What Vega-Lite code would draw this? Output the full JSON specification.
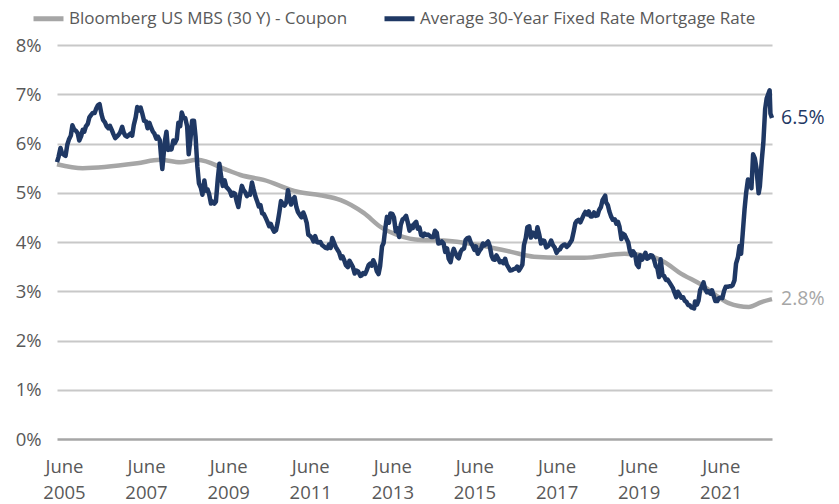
{
  "$schema": "https://vega.github.io/schema/vega-lite/v6.json",
  "autosize": "none",
  "width": 715,
  "height": 394,
  "padding": {"left": 57, "top": 45, "right": 67, "bottom": 65},
  "config": {
    "font": "Open Sans",
    "view": {"stroke": null},
    "legend": {
      "orient": "none",
      "legendX": -26,
      "legendY": -44,
      "direction": "horizontal",
      "title": null,
      "symbolType": "stroke",
      "symbolSize": 900,
      "symbolStrokeWidth": 5,
      "labelFontSize": 17,
      "labelColor": "#595959",
      "labelLimit": 500,
      "labelOffset": 3,
      "columnPadding": 26
    }
  },
  "datasets": {
    "mbs": [
      {"date": "2005-07-01", "value": 5.58},
      {"date": "2006-02-15", "value": 5.50},
      {"date": "2007-06-15", "value": 5.60},
      {"date": "2008-01-05", "value": 5.67},
      {"date": "2008-07-01", "value": 5.62},
      {"date": "2008-12-01", "value": 5.67},
      {"date": "2009-08-25", "value": 5.46},
      {"date": "2009-12-20", "value": 5.36},
      {"date": "2010-07-13", "value": 5.26},
      {"date": "2011-05-12", "value": 5.02},
      {"date": "2011-12-01", "value": 4.95},
      {"date": "2012-05-30", "value": 4.85},
      {"date": "2012-12-20", "value": 4.59},
      {"date": "2013-05-22", "value": 4.30},
      {"date": "2013-10-19", "value": 4.14},
      {"date": "2014-05-12", "value": 4.04},
      {"date": "2014-12-01", "value": 4.03},
      {"date": "2015-10-01", "value": 3.94},
      {"date": "2016-07-24", "value": 3.80},
      {"date": "2017-02-13", "value": 3.70},
      {"date": "2017-10-12", "value": 3.68},
      {"date": "2018-05-05", "value": 3.68},
      {"date": "2019-04-28", "value": 3.76},
      {"date": "2019-12-24", "value": 3.70},
      {"date": "2020-04-20", "value": 3.59},
      {"date": "2020-08-22", "value": 3.39},
      {"date": "2021-03-14", "value": 3.13},
      {"date": "2021-11-10", "value": 2.76},
      {"date": "2022-05-08", "value": 2.68},
      {"date": "2022-08-29", "value": 2.78},
      {"date": "2022-12-01", "value": 2.84}
    ],
    "mortgage": [
      {"date": "2005-07-01", "value": 5.62},
      {"date": "2005-07-15", "value": 5.73},
      {"date": "2005-08-01", "value": 5.91},
      {"date": "2005-08-15", "value": 5.80},
      {"date": "2005-09-01", "value": 5.77},
      {"date": "2005-09-15", "value": 5.75},
      {"date": "2005-10-01", "value": 5.98},
      {"date": "2005-10-15", "value": 6.08},
      {"date": "2005-11-01", "value": 6.16},
      {"date": "2005-11-15", "value": 6.37},
      {"date": "2005-12-01", "value": 6.28},
      {"date": "2005-12-15", "value": 6.26},
      {"date": "2006-01-01", "value": 6.21},
      {"date": "2006-01-15", "value": 6.06},
      {"date": "2006-02-01", "value": 6.15},
      {"date": "2006-02-15", "value": 6.28},
      {"date": "2006-03-01", "value": 6.24},
      {"date": "2006-03-15", "value": 6.35},
      {"date": "2006-04-01", "value": 6.40},
      {"date": "2006-04-15", "value": 6.53},
      {"date": "2006-05-01", "value": 6.58},
      {"date": "2006-05-15", "value": 6.62},
      {"date": "2006-06-01", "value": 6.62},
      {"date": "2006-06-15", "value": 6.71},
      {"date": "2006-07-01", "value": 6.78},
      {"date": "2006-07-15", "value": 6.80},
      {"date": "2006-08-01", "value": 6.59},
      {"date": "2006-08-15", "value": 6.48},
      {"date": "2006-09-01", "value": 6.43},
      {"date": "2006-09-15", "value": 6.35},
      {"date": "2006-10-01", "value": 6.31},
      {"date": "2006-10-15", "value": 6.36},
      {"date": "2006-11-01", "value": 6.27},
      {"date": "2006-11-15", "value": 6.19},
      {"date": "2006-12-01", "value": 6.11},
      {"date": "2006-12-15", "value": 6.14},
      {"date": "2007-01-01", "value": 6.18},
      {"date": "2007-01-15", "value": 6.23},
      {"date": "2007-02-01", "value": 6.34},
      {"date": "2007-02-15", "value": 6.22},
      {"date": "2007-03-01", "value": 6.16},
      {"date": "2007-03-15", "value": 6.14},
      {"date": "2007-04-01", "value": 6.17},
      {"date": "2007-04-15", "value": 6.20},
      {"date": "2007-05-01", "value": 6.16},
      {"date": "2007-05-15", "value": 6.37},
      {"date": "2007-06-01", "value": 6.53},
      {"date": "2007-06-15", "value": 6.74},
      {"date": "2007-07-01", "value": 6.67},
      {"date": "2007-07-15", "value": 6.73},
      {"date": "2007-08-01", "value": 6.59},
      {"date": "2007-08-15", "value": 6.46},
      {"date": "2007-09-01", "value": 6.45},
      {"date": "2007-09-15", "value": 6.31},
      {"date": "2007-10-01", "value": 6.42},
      {"date": "2007-10-15", "value": 6.33},
      {"date": "2007-11-01", "value": 6.24},
      {"date": "2007-11-15", "value": 6.20},
      {"date": "2007-12-01", "value": 6.10},
      {"date": "2007-12-15", "value": 6.14},
      {"date": "2008-01-01", "value": 6.07},
      {"date": "2008-01-15", "value": 5.69},
      {"date": "2008-01-24", "value": 5.48},
      {"date": "2008-02-01", "value": 5.68},
      {"date": "2008-02-15", "value": 6.04},
      {"date": "2008-03-01", "value": 6.24},
      {"date": "2008-03-15", "value": 5.87},
      {"date": "2008-04-01", "value": 5.88},
      {"date": "2008-04-15", "value": 5.88},
      {"date": "2008-05-01", "value": 6.06},
      {"date": "2008-05-15", "value": 6.01},
      {"date": "2008-06-01", "value": 6.09},
      {"date": "2008-06-15", "value": 6.42},
      {"date": "2008-07-01", "value": 6.35},
      {"date": "2008-07-15", "value": 6.63},
      {"date": "2008-08-01", "value": 6.52},
      {"date": "2008-08-15", "value": 6.52},
      {"date": "2008-09-01", "value": 6.35},
      {"date": "2008-09-15", "value": 5.78},
      {"date": "2008-10-01", "value": 6.10},
      {"date": "2008-10-15", "value": 6.46},
      {"date": "2008-11-01", "value": 6.46},
      {"date": "2008-11-15", "value": 6.14},
      {"date": "2008-12-01", "value": 5.53},
      {"date": "2008-12-15", "value": 5.19},
      {"date": "2009-01-01", "value": 5.10},
      {"date": "2009-01-15", "value": 4.96},
      {"date": "2009-02-01", "value": 5.25},
      {"date": "2009-02-15", "value": 5.04},
      {"date": "2009-03-01", "value": 5.07},
      {"date": "2009-03-15", "value": 4.98},
      {"date": "2009-04-01", "value": 4.78},
      {"date": "2009-04-15", "value": 4.82},
      {"date": "2009-05-01", "value": 4.78},
      {"date": "2009-05-15", "value": 4.82},
      {"date": "2009-06-01", "value": 5.29},
      {"date": "2009-06-15", "value": 5.59},
      {"date": "2009-07-01", "value": 5.32},
      {"date": "2009-07-15", "value": 5.14},
      {"date": "2009-08-01", "value": 5.25},
      {"date": "2009-08-15", "value": 5.12},
      {"date": "2009-09-01", "value": 5.08},
      {"date": "2009-09-15", "value": 5.04},
      {"date": "2009-10-01", "value": 4.94},
      {"date": "2009-10-15", "value": 5.00},
      {"date": "2009-11-01", "value": 4.98},
      {"date": "2009-11-15", "value": 4.83},
      {"date": "2009-12-01", "value": 4.71},
      {"date": "2009-12-15", "value": 4.94},
      {"date": "2010-01-01", "value": 5.14},
      {"date": "2010-01-15", "value": 5.06},
      {"date": "2010-02-01", "value": 5.01},
      {"date": "2010-02-15", "value": 4.93},
      {"date": "2010-03-01", "value": 4.97},
      {"date": "2010-03-15", "value": 4.96},
      {"date": "2010-04-01", "value": 5.21},
      {"date": "2010-04-15", "value": 5.07},
      {"date": "2010-05-01", "value": 4.93},
      {"date": "2010-05-15", "value": 4.84},
      {"date": "2010-06-01", "value": 4.72},
      {"date": "2010-06-15", "value": 4.75},
      {"date": "2010-07-01", "value": 4.58},
      {"date": "2010-07-15", "value": 4.57},
      {"date": "2010-08-01", "value": 4.49},
      {"date": "2010-08-15", "value": 4.42},
      {"date": "2010-09-01", "value": 4.32},
      {"date": "2010-09-15", "value": 4.37},
      {"date": "2010-10-01", "value": 4.27},
      {"date": "2010-10-15", "value": 4.21},
      {"date": "2010-11-01", "value": 4.24},
      {"date": "2010-11-15", "value": 4.39},
      {"date": "2010-12-01", "value": 4.61},
      {"date": "2010-12-15", "value": 4.83},
      {"date": "2011-01-01", "value": 4.77},
      {"date": "2011-01-15", "value": 4.74},
      {"date": "2011-02-01", "value": 4.81},
      {"date": "2011-02-15", "value": 5.05},
      {"date": "2011-03-01", "value": 4.87},
      {"date": "2011-03-15", "value": 4.76},
      {"date": "2011-04-01", "value": 4.87},
      {"date": "2011-04-15", "value": 4.91},
      {"date": "2011-05-01", "value": 4.71},
      {"date": "2011-05-15", "value": 4.61},
      {"date": "2011-06-01", "value": 4.55},
      {"date": "2011-06-15", "value": 4.50},
      {"date": "2011-07-01", "value": 4.60},
      {"date": "2011-07-15", "value": 4.52},
      {"date": "2011-08-01", "value": 4.39},
      {"date": "2011-08-15", "value": 4.15},
      {"date": "2011-09-01", "value": 4.12},
      {"date": "2011-09-15", "value": 4.09},
      {"date": "2011-10-01", "value": 4.01},
      {"date": "2011-10-15", "value": 4.12},
      {"date": "2011-11-01", "value": 4.00},
      {"date": "2011-11-15", "value": 3.99},
      {"date": "2011-12-01", "value": 4.00},
      {"date": "2011-12-15", "value": 3.94},
      {"date": "2012-01-01", "value": 3.91},
      {"date": "2012-01-15", "value": 3.88},
      {"date": "2012-02-01", "value": 3.87},
      {"date": "2012-02-15", "value": 3.95},
      {"date": "2012-03-01", "value": 3.88},
      {"date": "2012-03-15", "value": 4.08},
      {"date": "2012-04-01", "value": 3.98},
      {"date": "2012-04-15", "value": 3.90},
      {"date": "2012-05-01", "value": 3.84},
      {"date": "2012-05-15", "value": 3.79},
      {"date": "2012-06-01", "value": 3.67},
      {"date": "2012-06-15", "value": 3.71},
      {"date": "2012-07-01", "value": 3.62},
      {"date": "2012-07-15", "value": 3.53},
      {"date": "2012-08-01", "value": 3.49},
      {"date": "2012-08-15", "value": 3.62},
      {"date": "2012-09-01", "value": 3.55},
      {"date": "2012-09-15", "value": 3.49},
      {"date": "2012-10-01", "value": 3.36},
      {"date": "2012-10-15", "value": 3.42},
      {"date": "2012-11-01", "value": 3.40},
      {"date": "2012-11-21", "value": 3.31},
      {"date": "2012-12-01", "value": 3.32},
      {"date": "2012-12-15", "value": 3.37},
      {"date": "2013-01-01", "value": 3.35},
      {"date": "2013-01-15", "value": 3.42},
      {"date": "2013-02-01", "value": 3.53},
      {"date": "2013-02-15", "value": 3.56},
      {"date": "2013-03-01", "value": 3.52},
      {"date": "2013-03-15", "value": 3.63},
      {"date": "2013-04-01", "value": 3.54},
      {"date": "2013-04-15", "value": 3.41},
      {"date": "2013-05-01", "value": 3.35},
      {"date": "2013-05-15", "value": 3.51},
      {"date": "2013-06-01", "value": 3.91},
      {"date": "2013-06-15", "value": 3.98},
      {"date": "2013-07-01", "value": 4.29},
      {"date": "2013-07-15", "value": 4.51},
      {"date": "2013-08-01", "value": 4.39},
      {"date": "2013-08-15", "value": 4.58},
      {"date": "2013-09-01", "value": 4.57},
      {"date": "2013-09-15", "value": 4.50},
      {"date": "2013-10-01", "value": 4.22},
      {"date": "2013-10-15", "value": 4.28},
      {"date": "2013-11-01", "value": 4.10},
      {"date": "2013-11-15", "value": 4.35},
      {"date": "2013-12-01", "value": 4.46},
      {"date": "2013-12-15", "value": 4.48},
      {"date": "2014-01-01", "value": 4.53},
      {"date": "2014-01-15", "value": 4.41},
      {"date": "2014-02-01", "value": 4.23},
      {"date": "2014-02-15", "value": 4.33},
      {"date": "2014-03-01", "value": 4.28},
      {"date": "2014-03-15", "value": 4.37},
      {"date": "2014-04-01", "value": 4.41},
      {"date": "2014-04-15", "value": 4.27},
      {"date": "2014-05-01", "value": 4.29},
      {"date": "2014-05-15", "value": 4.14},
      {"date": "2014-06-01", "value": 4.12},
      {"date": "2014-06-15", "value": 4.17},
      {"date": "2014-07-01", "value": 4.14},
      {"date": "2014-07-15", "value": 4.15},
      {"date": "2014-08-01", "value": 4.12},
      {"date": "2014-08-15", "value": 4.10},
      {"date": "2014-09-01", "value": 4.10},
      {"date": "2014-09-15", "value": 4.23},
      {"date": "2014-10-01", "value": 4.19},
      {"date": "2014-10-15", "value": 3.97},
      {"date": "2014-11-01", "value": 3.98},
      {"date": "2014-11-15", "value": 4.01},
      {"date": "2014-12-01", "value": 3.97},
      {"date": "2014-12-15", "value": 3.80},
      {"date": "2015-01-01", "value": 3.87},
      {"date": "2015-01-15", "value": 3.66},
      {"date": "2015-02-01", "value": 3.59},
      {"date": "2015-02-15", "value": 3.76},
      {"date": "2015-03-01", "value": 3.86},
      {"date": "2015-03-15", "value": 3.78},
      {"date": "2015-04-01", "value": 3.70},
      {"date": "2015-04-15", "value": 3.67},
      {"date": "2015-05-01", "value": 3.80},
      {"date": "2015-05-15", "value": 3.85},
      {"date": "2015-06-01", "value": 3.87},
      {"date": "2015-06-15", "value": 4.04},
      {"date": "2015-07-01", "value": 4.08},
      {"date": "2015-07-15", "value": 4.09},
      {"date": "2015-08-01", "value": 3.98},
      {"date": "2015-08-15", "value": 3.93},
      {"date": "2015-09-01", "value": 3.84},
      {"date": "2015-09-15", "value": 3.91},
      {"date": "2015-10-01", "value": 3.76},
      {"date": "2015-10-15", "value": 3.82},
      {"date": "2015-11-01", "value": 3.87},
      {"date": "2015-11-15", "value": 3.97},
      {"date": "2015-12-01", "value": 3.93},
      {"date": "2015-12-15", "value": 3.97},
      {"date": "2016-01-01", "value": 4.01},
      {"date": "2016-01-15", "value": 3.92},
      {"date": "2016-02-01", "value": 3.72},
      {"date": "2016-02-15", "value": 3.65},
      {"date": "2016-03-01", "value": 3.64},
      {"date": "2016-03-15", "value": 3.73},
      {"date": "2016-04-01", "value": 3.66},
      {"date": "2016-04-15", "value": 3.59},
      {"date": "2016-05-01", "value": 3.61},
      {"date": "2016-05-15", "value": 3.57},
      {"date": "2016-06-01", "value": 3.66},
      {"date": "2016-06-15", "value": 3.54},
      {"date": "2016-07-01", "value": 3.48},
      {"date": "2016-07-15", "value": 3.42},
      {"date": "2016-08-01", "value": 3.43},
      {"date": "2016-08-15", "value": 3.45},
      {"date": "2016-09-01", "value": 3.46},
      {"date": "2016-09-15", "value": 3.50},
      {"date": "2016-10-01", "value": 3.42},
      {"date": "2016-10-15", "value": 3.47},
      {"date": "2016-11-01", "value": 3.54},
      {"date": "2016-11-15", "value": 3.94},
      {"date": "2016-12-01", "value": 4.08},
      {"date": "2016-12-15", "value": 4.30},
      {"date": "2017-01-01", "value": 4.32},
      {"date": "2017-01-15", "value": 4.09},
      {"date": "2017-02-01", "value": 4.19},
      {"date": "2017-02-15", "value": 4.15},
      {"date": "2017-03-01", "value": 4.10},
      {"date": "2017-03-15", "value": 4.30},
      {"date": "2017-04-01", "value": 4.14},
      {"date": "2017-04-15", "value": 3.97},
      {"date": "2017-05-01", "value": 4.03},
      {"date": "2017-05-15", "value": 4.02},
      {"date": "2017-06-01", "value": 3.89},
      {"date": "2017-06-15", "value": 3.91},
      {"date": "2017-07-01", "value": 3.96},
      {"date": "2017-07-15", "value": 4.03},
      {"date": "2017-08-01", "value": 3.93},
      {"date": "2017-08-15", "value": 3.89},
      {"date": "2017-09-01", "value": 3.78},
      {"date": "2017-09-15", "value": 3.83},
      {"date": "2017-10-01", "value": 3.85},
      {"date": "2017-10-15", "value": 3.91},
      {"date": "2017-11-01", "value": 3.94},
      {"date": "2017-11-15", "value": 3.95},
      {"date": "2017-12-01", "value": 3.90},
      {"date": "2017-12-15", "value": 3.93},
      {"date": "2018-01-01", "value": 3.99},
      {"date": "2018-01-15", "value": 4.04},
      {"date": "2018-02-01", "value": 4.22},
      {"date": "2018-02-15", "value": 4.38},
      {"date": "2018-03-01", "value": 4.43},
      {"date": "2018-03-15", "value": 4.45},
      {"date": "2018-04-01", "value": 4.40},
      {"date": "2018-04-15", "value": 4.47},
      {"date": "2018-05-01", "value": 4.55},
      {"date": "2018-05-15", "value": 4.61},
      {"date": "2018-06-01", "value": 4.56},
      {"date": "2018-06-15", "value": 4.62},
      {"date": "2018-07-01", "value": 4.52},
      {"date": "2018-07-15", "value": 4.52},
      {"date": "2018-08-01", "value": 4.60},
      {"date": "2018-08-15", "value": 4.53},
      {"date": "2018-09-01", "value": 4.54},
      {"date": "2018-09-15", "value": 4.65},
      {"date": "2018-10-01", "value": 4.71},
      {"date": "2018-10-15", "value": 4.85},
      {"date": "2018-11-08", "value": 4.94},
      {"date": "2018-11-15", "value": 4.81},
      {"date": "2018-12-01", "value": 4.75},
      {"date": "2018-12-15", "value": 4.62},
      {"date": "2019-01-01", "value": 4.51},
      {"date": "2019-01-15", "value": 4.45},
      {"date": "2019-02-01", "value": 4.46},
      {"date": "2019-02-15", "value": 4.37},
      {"date": "2019-03-01", "value": 4.41},
      {"date": "2019-03-15", "value": 4.31},
      {"date": "2019-04-01", "value": 4.06},
      {"date": "2019-04-15", "value": 4.17},
      {"date": "2019-05-01", "value": 4.14},
      {"date": "2019-05-15", "value": 4.07},
      {"date": "2019-06-01", "value": 3.99},
      {"date": "2019-06-15", "value": 3.82},
      {"date": "2019-07-01", "value": 3.73},
      {"date": "2019-07-15", "value": 3.81},
      {"date": "2019-08-01", "value": 3.75},
      {"date": "2019-08-15", "value": 3.55},
      {"date": "2019-09-01", "value": 3.49},
      {"date": "2019-09-15", "value": 3.73},
      {"date": "2019-10-01", "value": 3.64},
      {"date": "2019-10-15", "value": 3.69},
      {"date": "2019-11-01", "value": 3.78},
      {"date": "2019-11-15", "value": 3.66},
      {"date": "2019-12-01", "value": 3.68},
      {"date": "2019-12-15", "value": 3.73},
      {"date": "2020-01-01", "value": 3.72},
      {"date": "2020-01-15", "value": 3.65},
      {"date": "2020-02-01", "value": 3.51},
      {"date": "2020-02-15", "value": 3.47},
      {"date": "2020-03-01", "value": 3.29},
      {"date": "2020-03-15", "value": 3.65},
      {"date": "2020-04-01", "value": 3.33},
      {"date": "2020-04-15", "value": 3.31},
      {"date": "2020-05-01", "value": 3.23},
      {"date": "2020-05-15", "value": 3.24},
      {"date": "2020-06-01", "value": 3.18},
      {"date": "2020-06-15", "value": 3.13},
      {"date": "2020-07-01", "value": 3.07},
      {"date": "2020-07-15", "value": 2.98},
      {"date": "2020-08-01", "value": 2.88},
      {"date": "2020-08-15", "value": 2.99},
      {"date": "2020-09-01", "value": 2.93},
      {"date": "2020-09-15", "value": 2.87},
      {"date": "2020-10-01", "value": 2.88},
      {"date": "2020-10-15", "value": 2.81},
      {"date": "2020-11-01", "value": 2.78},
      {"date": "2020-11-15", "value": 2.72},
      {"date": "2020-12-01", "value": 2.71},
      {"date": "2020-12-15", "value": 2.67},
      {"date": "2021-01-07", "value": 2.65},
      {"date": "2021-01-15", "value": 2.79},
      {"date": "2021-02-01", "value": 2.73},
      {"date": "2021-02-15", "value": 2.81},
      {"date": "2021-03-01", "value": 3.02},
      {"date": "2021-03-15", "value": 3.09},
      {"date": "2021-04-01", "value": 3.18},
      {"date": "2021-04-15", "value": 3.04},
      {"date": "2021-05-01", "value": 2.98},
      {"date": "2021-05-15", "value": 3.00},
      {"date": "2021-06-01", "value": 2.95},
      {"date": "2021-06-15", "value": 3.02},
      {"date": "2021-07-01", "value": 2.90},
      {"date": "2021-07-15", "value": 2.80},
      {"date": "2021-08-01", "value": 2.80},
      {"date": "2021-08-15", "value": 2.86},
      {"date": "2021-09-01", "value": 2.87},
      {"date": "2021-09-15", "value": 2.86},
      {"date": "2021-10-01", "value": 3.01},
      {"date": "2021-10-15", "value": 3.09},
      {"date": "2021-11-01", "value": 3.09},
      {"date": "2021-11-15", "value": 3.10},
      {"date": "2021-12-01", "value": 3.10},
      {"date": "2021-12-15", "value": 3.12},
      {"date": "2022-01-01", "value": 3.22},
      {"date": "2022-01-15", "value": 3.56},
      {"date": "2022-02-01", "value": 3.69},
      {"date": "2022-02-15", "value": 3.92},
      {"date": "2022-03-01", "value": 3.76},
      {"date": "2022-03-15", "value": 4.16},
      {"date": "2022-04-01", "value": 4.67},
      {"date": "2022-04-15", "value": 5.00},
      {"date": "2022-05-01", "value": 5.27},
      {"date": "2022-05-15", "value": 5.25},
      {"date": "2022-06-01", "value": 5.09},
      {"date": "2022-06-16", "value": 5.78},
      {"date": "2022-07-01", "value": 5.70},
      {"date": "2022-07-15", "value": 5.51},
      {"date": "2022-08-04", "value": 4.99},
      {"date": "2022-08-15", "value": 5.13},
      {"date": "2022-09-01", "value": 5.66},
      {"date": "2022-09-15", "value": 6.02},
      {"date": "2022-10-01", "value": 6.70},
      {"date": "2022-10-15", "value": 6.92},
      {"date": "2022-11-10", "value": 7.08},
      {"date": "2022-11-17", "value": 6.61},
      {"date": "2022-12-01", "value": 6.52}
    ],
    "ends": [
      {"date": "2022-12-01", "value": 6.52, "label": "6.5%", "series": "mortgage"},
      {"date": "2022-12-01", "value": 2.84, "label": "2.8%", "series": "mbs"}
    ]
  },
  "encoding": {
    "x": {
      "field": "date",
      "type": "temporal",
      "scale": {"domain": ["2005-07-01", "2022-12-01"]},
      "axis": {
        "title": null,
        "grid": false,
        "domain": false,
        "ticks": false,
        "values": [
          {"year": 2005, "month": 9, "date": 1},
          {"year": 2007, "month": 9, "date": 1},
          {"year": 2009, "month": 9, "date": 1},
          {"year": 2011, "month": 9, "date": 1},
          {"year": 2013, "month": 9, "date": 1},
          {"year": 2015, "month": 9, "date": 1},
          {"year": 2017, "month": 9, "date": 1},
          {"year": 2019, "month": 9, "date": 1},
          {"year": 2021, "month": 9, "date": 1}
        ],
        "labelExpr": "['June', timeFormat(datum.value, '%Y')]",
        "labelFontSize": 18.5,
        "labelColor": "#595959",
        "labelLineHeight": 26,
        "labelPadding": 18,
        "labelBaseline": "top"
      }
    },
    "y": {
      "field": "value",
      "type": "quantitative",
      "scale": {"domain": [0, 8], "nice": false},
      "axis": {
        "title": null,
        "values": [0, 1, 2, 3, 4, 5, 6, 7, 8],
        "labelExpr": "datum.value + '%'",
        "domain": false,
        "ticks": false,
        "labelFontSize": 18.5,
        "labelColor": "#595959",
        "labelPadding": 16,
        "gridColor": {"condition": {"test": "datum.value === 0", "value": "#A6A6A6"}, "value": "#C8C8C8"},
        "gridWidth": {"condition": {"test": "datum.value === 0", "value": 2.5}, "value": 1.8}
      }
    }
  },
  "layer": [
    {
      "data": {"name": "mbs"},
      "mark": {"type": "line", "strokeWidth": 4.5, "interpolate": "monotone"},
      "encoding": {
        "color": {
          "datum": "Bloomberg US MBS (30 Y) - Coupon",
          "scale": {
            "domain": ["Bloomberg US MBS (30 Y) - Coupon", "Average 30-Year Fixed Rate Mortgage Rate"],
            "range": ["#A6A6A6", "#1F3864"]
          }
        }
      }
    },
    {
      "data": {"name": "mortgage"},
      "mark": {"type": "line", "strokeWidth": 4.5, "strokeJoin": "round"},
      "encoding": {
        "color": {"datum": "Average 30-Year Fixed Rate Mortgage Rate"}
      }
    },
    {
      "data": {"name": "ends"},
      "transform": [{"filter": "datum.series === 'mortgage'"}],
      "mark": {"type": "text", "align": "left", "dx": 9, "fontSize": 19.5, "baseline": "middle", "color": "#1F3864"},
      "encoding": {"text": {"field": "label"}}
    },
    {
      "data": {"name": "ends"},
      "transform": [{"filter": "datum.series === 'mbs'"}],
      "mark": {"type": "text", "align": "left", "dx": 9, "fontSize": 19.5, "baseline": "middle", "color": "#A6A6A6"},
      "encoding": {"text": {"field": "label"}}
    }
  ]
}
